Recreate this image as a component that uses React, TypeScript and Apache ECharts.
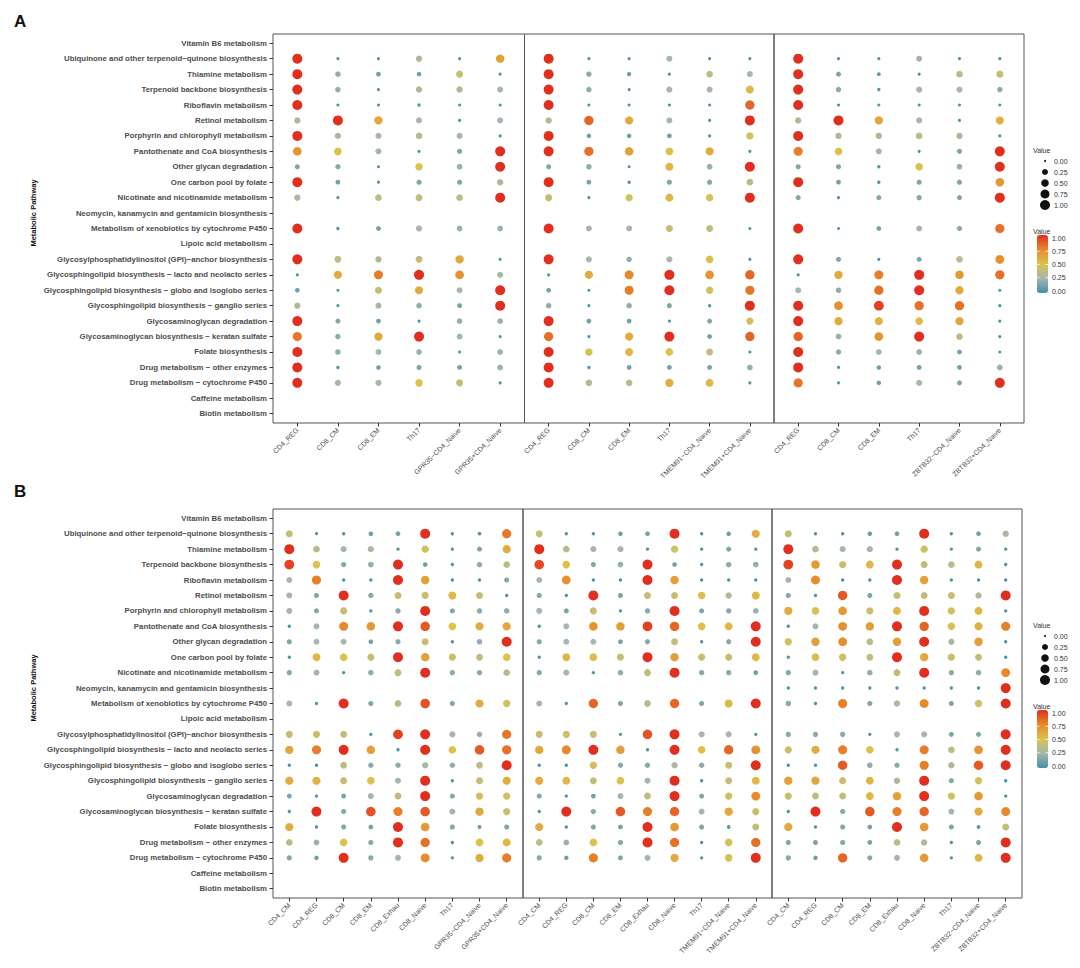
import React, { useEffect, useRef } from 'react';
import * as echarts from 'echarts';

const pathways = [
  'Vitamin B6 metabolism',
  'Ubiquinone and other terpenoid−quinone biosynthesis',
  'Thiamine metabolism',
  'Terpenoid backbone biosynthesis',
  'Riboflavin metabolism',
  'Retinol metabolism',
  'Porphyrin and chlorophyll metabolism',
  'Pantothenate and CoA biosynthesis',
  'Other glycan degradation',
  'One carbon pool by folate',
  'Nicotinate and nicotinamide metabolism',
  'Neomycin, kanamycin and gentamicin biosynthesis',
  'Metabolism of xenobiotics by cytochrome P450',
  'Lipoic acid metabolism',
  'Glycosylphosphatidylinositol (GPI)−anchor biosynthesis',
  'Glycosphingolipid biosynthesis − lacto and neolacto series',
  'Glycosphingolipid biosynthesis − globo and isoglobo series',
  'Glycosphingolipid biosynthesis − ganglio series',
  'Glycosaminoglycan degradation',
  'Glycosaminoglycan biosynthesis − keratan sulfate',
  'Folate biosynthesis',
  'Drug metabolism − other enzymes',
  'Drug metabolism − cytochrome P450',
  'Caffeine metabolism',
  'Biotin metabolism',
];

const colsA1 = ['CD4_REG', 'CD8_CM', 'CD8_EM', 'Th17', 'GPR35−CD4_Naive', 'GPR35+CD4_Naive'];
const colsA2 = ['CD4_REG', 'CD8_CM', 'CD8_EM', 'Th17', 'TMEM91−CD4_Naive', 'TMEM91+CD4_Naive'];
const colsA3 = ['CD4_REG', 'CD8_CM', 'CD8_EM', 'Th17', 'ZBTB32−CD4_Naive', 'ZBTB32+CD4_Naive'];
const colsB1 = ['CD4_CM', 'CD4_REG', 'CD8_CM', 'CD8_EM', 'CD8_Exhau', 'CD8_Naive', 'Th17', 'GPR35−CD4_Naive', 'GPR35+CD4_Naive'];
const colsB2 = ['CD4_CM', 'CD4_REG', 'CD8_CM', 'CD8_EM', 'CD8_Exhau', 'CD8_Naive', 'Th17', 'TMEM91−CD4_Naive', 'TMEM91+CD4_Naive'];
const colsB3 = ['CD4_CM', 'CD4_REG', 'CD8_CM', 'CD8_EM', 'CD8_Exhau', 'CD8_Naive', 'Th17', 'ZBTB32−CD4_Naive', 'ZBTB32+CD4_Naive'];

const legendValues = [0, 0.25, 0.5, 0.75, 1];
const legendLabels = ['0.00', '0.25', '0.50', '0.75', '1.00'];

// rows follow `pathways`; null = pathway absent in that facet
const valuesA1 = [
  null,
  [1, .02, .02, .3, .02, .65],
  [1, .2, .12, .1, .4, .02],
  [1, .2, .02, .3, .3, .25],
  [1, .02, .02, .03, .02, .02],
  [.3, 1, .62, .27, .02, .25],
  [1, .28, .27, .33, .25, .02],
  [.7, .5, .25, .02, .15, 1],
  [.15, .18, .02, .5, .22, 1],
  [1, .12, .02, .15, .15, .3],
  [.3, .02, .35, .38, .35, 1],
  null,
  [1, .03, .12, .27, .22, .22],
  null,
  [1, .38, .3, .38, .62, .02],
  [.02, .6, .78, 1, .7, .27],
  [.12, .02, .4, .6, .25, 1],
  [.28, .02, .27, .2, .12, 1],
  [1, .15, .12, .02, .2, .22],
  [.8, .18, .62, 1, .25, .02],
  [1, .2, .25, .22, .02, .25],
  [1, .03, .1, .15, .12, .23],
  [1, .27, .27, .5, .4, .02],
  null,
  null,
];

const valuesA2 = [
  null,
  [1, .02, .02, .25, .02, .02],
  [1, .18, .08, .02, .35, .25],
  [1, .18, .02, .27, .27, .55],
  [1, .02, .02, .02, .02, .85],
  [.3, .85, .6, .25, .02, 1],
  [1, .1, .1, .12, .02, .45],
  [1, .82, .65, .5, .6, .02],
  [.15, .2, .02, .55, .22, 1],
  [1, .12, .03, .15, .15, .35],
  [.4, .02, .45, .55, .47, 1],
  null,
  [1, .25, .25, .4, .38, .02],
  null,
  [1, .25, .2, .27, .5, .02],
  [.02, .6, .75, 1, .7, .85],
  [.12, .02, .78, 1, .45, .8],
  [.2, .02, .2, .15, .03, 1],
  [1, .12, .12, .02, .15, .45],
  [.82, .02, .6, 1, .12, .85],
  [1, .48, .55, .5, .38, .02],
  [1, .03, .12, .12, .13, .22],
  [1, .33, .33, .6, .55, .02],
  null,
  null,
];

const valuesA3 = [
  null,
  [1, .02, .02, .25, .02, .02],
  [1, .15, .05, .02, .35, .4],
  [1, .18, .03, .27, .27, .18],
  [1, .02, .02, .02, .02, .02],
  [.3, 1, .62, .27, .02, .58],
  [1, .3, .3, .35, .3, .02],
  [.78, .5, .25, .02, .15, 1],
  [.15, .15, .03, .48, .22, 1],
  [1, .12, .03, .15, .15, .68],
  [.15, .02, .15, .17, .15, 1],
  null,
  [1, .02, .12, .25, .18, .82],
  null,
  [1, .15, .02, .15, .35, .72],
  [.02, .62, .78, 1, .68, .82],
  [.25, .2, .82, 1, .62, .02],
  [1, .72, .95, .82, .82, .02],
  [1, .6, .57, .52, .62, .02],
  [.85, .22, .7, 1, .35, .02],
  [1, .18, .25, .23, .12, .02],
  [1, .02, .1, .12, .12, .23],
  [.8, .02, .1, .27, .15, 1],
  null,
  null,
];

const valuesB1 = [
  null,
  [.4, .02, .03, .1, .12, 1, .03, .05, .8],
  [1, .33, .25, .28, .03, .45, .03, .15, .6],
  [.95, .5, .17, .22, 1, .1, .03, .2, .35],
  [.25, .78, .03, .03, 1, .65, .03, .03, .15],
  [.25, .15, 1, .18, .4, .42, .55, .4, .03],
  [.25, .15, .4, .03, .18, 1, .15, .2, .2],
  [.03, .25, .75, .68, 1, .88, .5, .6, .62],
  [.15, .25, .25, .12, .17, .4, .03, .2, 1],
  [.03, .55, .5, .4, 1, .65, .42, .38, .5],
  [.17, .25, .03, .2, .38, 1, .18, .18, .33],
  null,
  [.25, .03, 1, .15, .35, .9, .15, .6, .45],
  null,
  [.4, .42, .38, .03, .95, 1, .25, .22, .8],
  [.62, .78, 1, .65, .03, 1, .5, .88, .82],
  [.03, .03, .35, .17, .17, .27, .18, .35, 1],
  [.6, .58, .4, .5, .25, 1, .03, .4, .6],
  [.15, .03, .12, .25, .38, 1, .15, .45, .45],
  [.03, 1, .17, .9, .78, .88, .25, .62, .42],
  [.6, .03, .15, .12, 1, .68, .15, .05, .15],
  [.35, .22, .5, .17, 1, .82, .03, .5, .55],
  [.17, .1, 1, .17, .25, .75, .03, .6, .78],
  null,
  null,
];

const valuesB2 = [
  null,
  [.4, .03, .03, .1, .12, 1, .03, .1, .58],
  [1, .33, .25, .27, .03, .45, .03, .15, .03],
  [.92, .5, .15, .22, 1, .1, .03, .2, .22],
  [.25, .72, .03, .03, 1, .65, .03, .03, .03],
  [.17, .03, 1, .15, .4, .4, .48, .3, .55],
  [.25, .15, .4, .03, .18, 1, .15, .17, .22],
  [.03, .25, .7, .65, .95, .85, .5, .55, 1],
  [.15, .25, .25, .12, .17, .38, .03, .17, 1],
  [.03, .55, .52, .4, 1, .65, .42, .4, .55],
  [.17, .25, .03, .2, .38, 1, .18, .18, .12],
  null,
  [.25, .03, .85, .15, .35, .85, .15, .55, 1],
  null,
  [.4, .42, .4, .03, .9, 1, .27, .27, .03],
  [.62, .75, 1, .65, .03, 1, .5, .85, .72],
  [.03, .03, .45, .17, .17, .3, .18, .4, 1],
  [.6, .55, .38, .5, .25, 1, .03, .38, .55],
  [.15, .03, .12, .25, .38, 1, .15, .45, .75],
  [.03, 1, .17, .88, .78, .85, .25, .62, .42],
  [.6, .03, .15, .12, 1, .68, .15, .05, .38],
  [.35, .22, .5, .17, 1, .82, .03, .48, .82],
  [.17, .1, .78, .15, .25, .6, .03, .48, 1],
  null,
  null,
];

const valuesB3 = [
  null,
  [.4, .03, .03, .1, .12, 1, .03, .12, .3],
  [1, .33, .25, .27, .03, .45, .03, .15, .03],
  [.95, .68, .42, .55, 1, .38, .35, .55, .03],
  [.25, .75, .03, .03, 1, .65, .03, .03, .03],
  [.17, .03, .88, .15, .4, .38, .4, .3, 1],
  [.6, .48, .68, .42, .55, 1, .45, .55, .03],
  [.03, .25, .72, .65, 1, .85, .48, .58, .78],
  [.45, .65, .72, .35, .65, 1, .28, .65, .03],
  [.03, .52, .45, .38, 1, .62, .42, .38, .03],
  [.17, .27, .03, .2, .38, 1, .17, .2, .75],
  [.03, .03, .03, .03, .03, .03, .03, .03, 1],
  [.2, .03, .78, .15, .3, .75, .15, .45, 1],
  null,
  [.17, .17, .17, .03, .25, .25, .15, .15, 1],
  [.42, .6, .78, .5, .03, .78, .35, .7, 1],
  [.03, .03, .88, .2, .17, .78, .3, .88, 1],
  [.65, .62, .4, .55, .3, 1, .17, .45, .03],
  [.42, .38, .38, .55, .65, 1, .45, .68, .03],
  [.03, 1, .17, .88, .78, .85, .25, .6, .75],
  [.62, .03, .15, .12, 1, .68, .15, .05, .38],
  [.15, .15, .17, .12, .35, .3, .03, .15, 1],
  [.17, .1, .85, .15, .25, .68, .03, .55, 1],
  null,
  null,
];

const colorStops = ['#4590a8', '#a4b6ae', '#dcc24c', '#e8892c', '#e02f1f'];
const FF = '"Liberation Sans", Arial, Helvetica, sans-serif';

const sizeOf = (v: number) => 2 + 8 * Math.sqrt(Math.max(0, v));

function toPoints(mat: (number[] | null)[]) {
  const pts: number[][] = [];
  mat.forEach((row, r) => {
    if (!row) return;
    row.forEach((v, c) => {
      if (v != null) pts.push([c, r, v]);
    });
  });
  return pts;
}

const panels = [
  {
    letter: 'A',
    top: 34,
    bottom: 423,
    xs: [273, 524.5, 774, 1024],
    facets: [
      { cols: colsA1, data: valuesA1 },
      { cols: colsA2, data: valuesA2 },
      { cols: colsA3, data: valuesA3 },
    ],
    dy: 0,
  },
  {
    letter: 'B',
    top: 509,
    bottom: 898,
    xs: [273, 523, 772, 1022],
    facets: [
      { cols: colsB1, data: valuesB1 },
      { cols: colsB2, data: valuesB2 },
      { cols: colsB3, data: valuesB3 },
    ],
    dy: 475,
  },
];

function buildOption() {
  const grid: any[] = [];
  const xAxis: any[] = [];
  const yAxis: any[] = [];
  const series: any[] = [];
  const visualMap: any[] = [];
  const graphic: any[] = [];
  const nRows = pathways.length;
  const rowIdx = pathways.map((_, i) => i);

  panels.forEach((p, pi) => {
    const seriesIdx: number[] = [];
    p.facets.forEach((f, fi) => {
      const gi = grid.length;
      grid.push({
        left: p.xs[fi],
        top: p.top,
        width: p.xs[fi + 1] - p.xs[fi],
        height: p.bottom - p.top,
        show: true,
        borderColor: '#555',
        borderWidth: 1,
        backgroundColor: 'transparent',
        containLabel: false,
      });
      const n = f.cols.length;
      const colIdx = f.cols.map((_, i) => i);
      xAxis.push({
        type: 'value',
        gridIndex: gi,
        position: 'bottom',
        min: -0.6,
        max: n - 1 + 0.6,
        axisLine: { show: false, onZero: false },
        splitLine: { show: false },
        axisTick: { show: true, length: 3.5, customValues: colIdx, lineStyle: { color: '#333', width: 1 } },
        axisLabel: {
          show: true,
          customValues: colIdx,
          rotate: 45,
          margin: 6,
          fontSize: 7,
          color: '#4d4d4d',
          fontFamily: FF,
          formatter: (v: number) => f.cols[Math.round(v)] ?? '',
        },
      });
      yAxis.push({
        type: 'value',
        gridIndex: gi,
        position: 'left',
        inverse: true,
        min: -0.6,
        max: nRows - 1 + 0.6,
        axisLine: { show: false, onZero: false },
        splitLine: { show: false },
        axisTick: { show: fi === 0, length: 3.5, customValues: rowIdx, lineStyle: { color: '#333', width: 1 } },
        axisLabel: {
          show: fi === 0,
          customValues: rowIdx,
          margin: 6,
          fontSize: 7.8,
          fontWeight: 'bold',
          color: '#4d4d4d',
          fontFamily: FF,
          formatter: (v: number) => pathways[Math.round(v)] ?? '',
        },
      });
      seriesIdx.push(series.length);
      series.push({
        type: 'scatter',
        xAxisIndex: gi,
        yAxisIndex: gi,
        data: toPoints(f.data),
        symbol: 'circle',
        symbolSize: (d: number[]) => sizeOf(d[2]),
        itemStyle: { opacity: 1 },
        silent: true,
      });
    });

    const dy = p.dy;
    visualMap.push({
      type: 'continuous',
      seriesIndex: seriesIdx,
      dimension: 2,
      min: 0,
      max: 1,
      inRange: { color: colorStops },
      show: true,
      calculable: false,
      orient: 'vertical',
      left: 1037,
      top: 235 + dy,
      itemWidth: 11,
      itemHeight: 58,
      padding: 0,
      text: null,
      showLabel: false,
    });

    // panel letter
    graphic.push({
      type: 'text',
      left: 14,
      top: 13 + (pi === 0 ? 0 : 470),
      style: { text: p.letter, font: `bold 17px ${FF}`, fill: '#111' },
    });
    // y axis title
    graphic.push({
      type: 'text',
      x: 33,
      y: 213 + dy,
      rotation: Math.PI / 2,
      style: {
        text: 'Metabolic Pathway',
        font: `bold 7.5px ${FF}`,
        fill: '#111',
        align: 'center',
        verticalAlign: 'middle',
      },
    });
    // size legend
    graphic.push({
      type: 'text',
      x: 1033,
      y: 150 + dy,
      style: { text: 'Value', font: `7px ${FF}`, fill: '#333', align: 'left', verticalAlign: 'middle' },
    });
    legendValues.forEach((v, i) => {
      const cy = 161 + dy + i * 11;
      graphic.push({
        type: 'circle',
        shape: { cx: 1045, cy, r: sizeOf(v) / 2 },
        style: { fill: '#111' },
      });
      graphic.push({
        type: 'text',
        x: 1054,
        y: cy,
        style: { text: legendLabels[i], font: `7px ${FF}`, fill: '#333', align: 'left', verticalAlign: 'middle' },
      });
    });
    // colour bar legend
    graphic.push({
      type: 'text',
      x: 1033,
      y: 231 + dy,
      style: { text: 'Value', font: `7px ${FF}`, fill: '#333', align: 'left', verticalAlign: 'middle' },
    });
    legendValues.forEach((v, i) => {
      const cy = 291 + dy - v * 53;
      graphic.push({
        type: 'text',
        x: 1052,
        y: cy,
        style: { text: legendLabels[i], font: `7px ${FF}`, fill: '#333', align: 'left', verticalAlign: 'middle' },
      });
      if (i > 0 && i < legendValues.length - 1) {
        graphic.push({
          type: 'line',
          z: 100,
          shape: { x1: 1037, y1: cy, x2: 1039.5, y2: cy },
          style: { stroke: '#fff', lineWidth: 0.8 },
        });
        graphic.push({
          type: 'line',
          z: 100,
          shape: { x1: 1045.5, y1: cy, x2: 1048, y2: cy },
          style: { stroke: '#fff', lineWidth: 0.8 },
        });
      }
    });
  });

  return {
    animation: false,
    backgroundColor: '#ffffff',
    textStyle: { fontFamily: FF },
    grid,
    xAxis,
    yAxis,
    series,
    visualMap,
    graphic,
  };
}

export default function App() {
  const ref = useRef<HTMLDivElement>(null);
  useEffect(() => {
    if (!ref.current) return;
    const chart = echarts.init(ref.current, null, { renderer: 'svg' });
    chart.setOption(buildOption() as any);
    return () => chart.dispose();
  }, []);
  return (
    <div
      ref={ref}
      style={{ position: 'absolute', left: 0, top: 0, width: 1080, height: 968, background: '#fff' }}
    />
  );
}
